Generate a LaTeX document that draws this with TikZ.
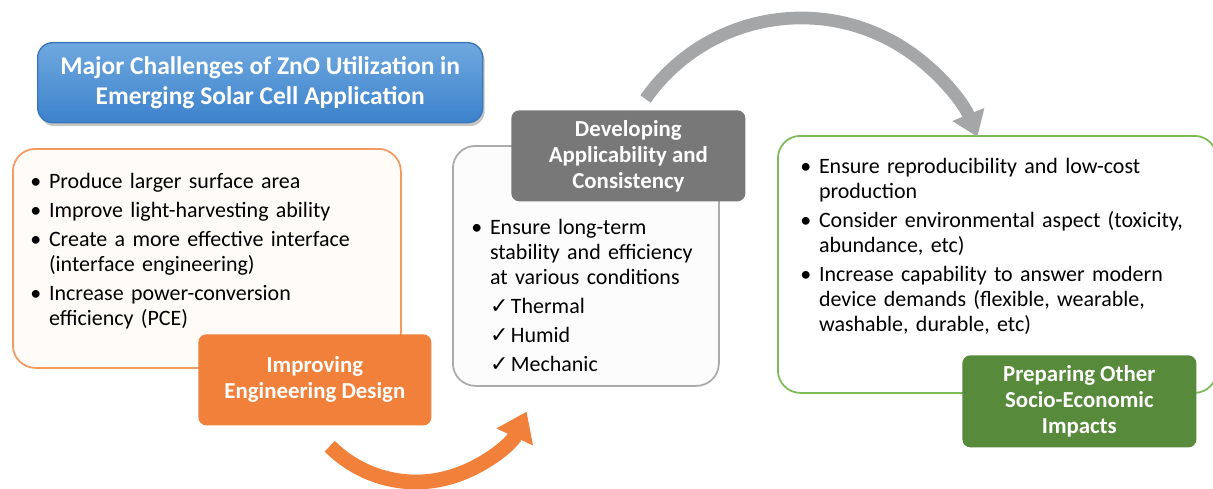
\documentclass[tikz,border=0pt]{standalone}
\usepackage{fontspec}
\setmainfont{Carlito}
\newfontfamily\symfont{DejaVu Sans}
\usetikzlibrary{positioning,shadows,arrows.meta}
\definecolor{titleblueA}{HTML}{6FA8DF}
\definecolor{titleblueB}{HTML}{3C82CB}
\definecolor{titleline}{HTML}{3A78BC}
\definecolor{engorange}{HTML}{F0803A}
\definecolor{engline}{HTML}{F39A62}
\definecolor{devgrey}{HTML}{787878}
\definecolor{devline}{HTML}{ABABAB}
\definecolor{prepgreen}{HTML}{578A3A}
\definecolor{prepline}{HTML}{7DBB5A}
\definecolor{arrowgrey}{HTML}{A4A6A8}
\newcommand{\bitem}[1]{\par\hangindent=0.85em\hangafter=1\noindent\makebox[0.85em][l]{\textbullet}#1}
\newcommand{\citem}[1]{\par\noindent\hspace*{0.85em}\makebox[0.95em][l]{\symfont ✓}#1}
\tikzset{
  outbox/.style   = {shape=rectangle, rounded corners=0.45cm, draw,
                     line width=1pt, anchor=north west},
  headbox/.style  = {shape=rectangle, rounded corners=0.16cm, align=center,
                     text=white, anchor=north west,
                     font=\bfseries\fontsize{13}{14.8}\selectfont},
  listtext/.style = {anchor=north west, text width=9cm,
                     font=\fontsize{12.5}{14.2}\selectfont},
  bendarrow/.style = {line width=#1, -{Triangle[width=2.6*#1, length=1.9*#1]}}
}
\begin{document}
\begin{tikzpicture}[every node/.style = {inner sep=0pt}]
  \fill[white] (0,0) rectangle (24.26,-9.76);
  \useasboundingbox (0,0) rectangle (24.26,-9.76);

  % title
  \node (title) [headbox, rounded corners=0.3cm, draw=titleline, line width=0.8pt,
        top color=titleblueA, bottom color=titleblueB,
        drop shadow={opacity=0.45, shadow xshift=0.04cm, shadow yshift=-0.07cm},
        minimum width=8.9cm, minimum height=1.6cm,
        font=\bfseries\fontsize{14.5}{17}\selectfont]
        at (0.74,-0.84) {Major Challenges of ZnO Utilization in\\Emerging Solar Cell Application};

  % improving engineering design
  \node (engbox) [outbox, draw=engline, fill=white!97!orange,
        minimum width=7.76cm, minimum height=4.38cm] at (0.24,-2.96) {};
  \node (engtxt) [listtext] at (0.6,-3.18) {\raggedright\parskip=2.4pt
    \bitem{Produce larger surface area}
    \bitem{Improve light-harvesting ability}
    \bitem{Create a more effective interface\newline(interface engineering)}
    \bitem{Increase power-conversion\newline efficiency (PCE)}\par};
  \node (eng) [headbox, fill=engorange, minimum width=4.66cm, minimum height=1.82cm]
        at (3.96,-6.68) {Improving\\Engineering Design};

  % developing applicability
  \node (devbox) [outbox, draw=devline, fill=white!99!black,
        minimum width=5.32cm, minimum height=4.8cm] at (9.04,-2.9) {};
  \node (devtxt) [listtext] at (9.42,-4.1) {\raggedright\parskip=2.4pt
    \bitem{Ensure long-term\newline stability and efficiency\newline at various conditions}
    \citem{Thermal}
    \citem{Humid}
    \citem{Mechanic}\par};
  \node (dev) [headbox, fill=devgrey, minimum width=4.68cm, minimum height=1.82cm]
        at (10.22,-2.2) {Developing\\Applicability and\\Consistency};

  % preparing other impacts
  \node (prepbox) [outbox, draw=prepline, fill=white,
        minimum width=8.78cm, minimum height=5.14cm] at (15.54,-2.7) {};
  \node (preptxt) [listtext] at (16.0,-2.88) {\raggedright\parskip=2.4pt
    \bitem{Ensure reproducibility and low-cost\newline production}
    \bitem{Consider environmental aspect (toxicity,\newline abundance, etc)}
    \bitem{Increase capability to answer modern\newline device demands (flexible, wearable,\newline washable, durable, etc)}\par};
  \node (prep) [headbox, fill=prepgreen, minimum width=4.68cm, minimum height=1.84cm]
        at (19.24,-7.1) {Preparing Other\\Socio-Economic\\Impacts};

  % curved arrows
  \coordinate (engout) at (6.595,-8.925);
  \coordinate (devout) at (12.91,-1.98);
  \draw[bendarrow=8.4pt, engorange] (engout) arc[start angle=225, end angle=335, radius=2.44cm];
  \draw[bendarrow=7.2pt, arrowgrey] (devout) arc[start angle=145, end angle=22, radius=3.8cm];
\end{tikzpicture}
\end{document}
